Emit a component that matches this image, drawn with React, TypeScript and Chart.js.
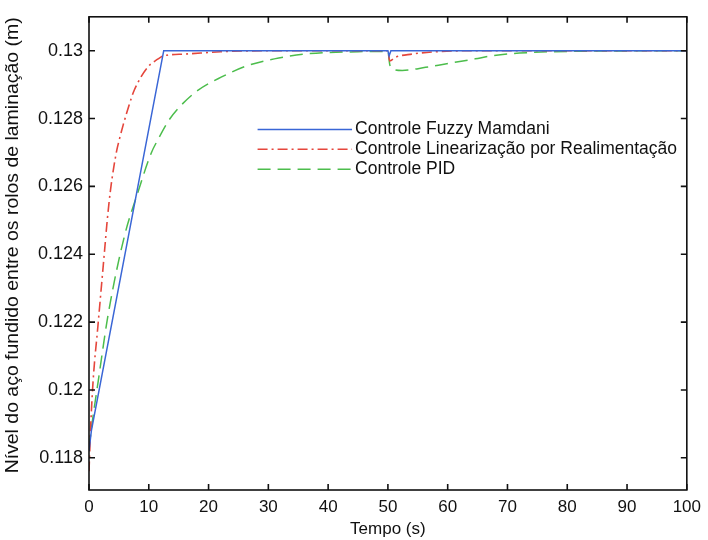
import React, { useEffect, useRef } from "react";
import { Chart, registerables } from "chart.js";

Chart.register(...registerables);

// ---- data ----
const fuzzyT = [0, 0.4, 12.5, 50, 50.2, 50.5, 100];
const fuzzyY = [0.1182, 0.1188, 0.13, 0.13, 0.12985, 0.13, 0.13];

const linT = [0, 0.3, 0.7, 1.5, 2.1, 2.6, 3.05, 3.6, 4.55, 5.1, 5.7, 6.8, 7.6, 9.8, 11.5, 12.5, 16, 22, 30, 50, 50.3, 51.3, 54, 58, 65, 100];
const linY = [0.1176, 0.119, 0.1203, 0.1219, 0.1231, 0.1241, 0.125, 0.1259, 0.12698, 0.1274, 0.1278, 0.12845, 0.12885, 0.12951, 0.12975, 0.12985, 0.1299, 0.12997, 0.13, 0.13, 0.1297, 0.12981, 0.1299, 0.12997, 0.13, 0.13];

const pidT = [0, 0.5, 1.55, 3.2, 5.95, 8.17, 10.4, 11.5, 13.4, 15.4, 18.2, 22.1, 26.5, 31, 36, 45, 50, 50.3, 50.7, 52.4, 56.3, 59.6, 64.6, 67.4, 72, 80, 100];
const pidY = [0.1183, 0.119, 0.12027, 0.12222, 0.12455, 0.12582, 0.12698, 0.12737, 0.12796, 0.12839, 0.12883, 0.12922, 0.12956, 0.12976, 0.1299, 0.12997, 0.12998, 0.1296, 0.12947, 0.12942, 0.12951, 0.12961, 0.12976, 0.12985, 0.12993, 0.12998, 0.13];

const seriesNames = [
  "Controle Fuzzy Mamdani",
  "Controle Linearização por Realimentação",
  "Controle PID",
];
const xTicks = [0, 10, 20, 30, 40, 50, 60, 70, 80, 90, 100];
const yTicks = [0.118, 0.12, 0.122, 0.124, 0.126, 0.128, 0.13];
const xTitle = "Tempo (s)";
const yTitle = "Nível do aço fundido entre os rolos de laminação (m)";

const COLORS = ["#3a66d6", "#e5463c", "#4cbd4c"];
const DASHES: number[][] = [[], [10, 4, 2, 4], [13, 7]];
const FONT = "'Liberation Sans', Arial, sans-serif";

const zip = (t: number[], y: number[]) => t.map((x, i) => ({ x, y: y[i] }));

const framePlugin = {
  id: "frameTicks",
  afterDatasetsDraw(chart: any) {
    const { ctx, chartArea: a, scales } = chart;
    const L = 6;
    ctx.save();
    ctx.strokeStyle = "#111";
    ctx.lineWidth = 1.6;
    ctx.strokeRect(a.left, a.top, a.right - a.left, a.bottom - a.top);
    ctx.beginPath();
    xTicks.forEach((v) => {
      const px = scales.x.getPixelForValue(v);
      ctx.moveTo(px, a.bottom);
      ctx.lineTo(px, a.bottom - L);
      ctx.moveTo(px, a.top);
      ctx.lineTo(px, a.top + L);
    });
    yTicks.forEach((v) => {
      const py = scales.y.getPixelForValue(v);
      ctx.moveTo(a.left, py);
      ctx.lineTo(a.left + L, py);
      ctx.moveTo(a.right, py);
      ctx.lineTo(a.right - L, py);
    });
    ctx.stroke();
    ctx.restore();
  },
};

const yTitlePlugin = {
  id: "yTitle",
  afterDraw(chart: any) {
    const { ctx, chartArea: a } = chart;
    ctx.save();
    ctx.font = `18px ${FONT}`;
    const w = ctx.measureText(yTitle).width;
    const target = 456;
    ctx.translate(13, a.top + (a.bottom - a.top) * 0.483);
    ctx.rotate(-Math.PI / 2);
    ctx.scale(target / w, 1);
    ctx.fillStyle = "#111";
    ctx.textAlign = "center";
    ctx.textBaseline = "middle";
    ctx.fillText(yTitle, 0, 0);
    ctx.restore();
  },
};

const legendPlugin = {
  id: "customLegend",
  afterDraw(chart: any) {
    const { ctx, chartArea: a } = chart;
    const w = a.right - a.left;
    const h = a.bottom - a.top;
    const x0 = a.left + w * 0.282;
    const x1 = a.left + w * 0.44;
    const tx = x1 + 3;
    const ys = [0.238, 0.28, 0.322].map((f) => a.top + h * f);
    ctx.save();
    ctx.font = `17.5px ${FONT}`;
    ctx.textBaseline = "middle";
    ctx.textAlign = "left";
    seriesNames.forEach((name, i) => {
      ctx.beginPath();
      ctx.setLineDash(DASHES[i]);
      ctx.strokeStyle = COLORS[i];
      ctx.lineWidth = 1.5;
      ctx.moveTo(x0, ys[i]);
      ctx.lineTo(x1, ys[i]);
      ctx.stroke();
      ctx.setLineDash([]);
      ctx.fillStyle = "#111";
      ctx.fillText(name, tx, ys[i]);
    });
    ctx.restore();
  },
};

export default function App() {
  const ref = useRef<HTMLCanvasElement | null>(null);
  useEffect(() => {
    if (!ref.current) return;
    const chart = new Chart(ref.current, {
      type: "line",
      data: {
        datasets: [
          { label: seriesNames[0], data: zip(fuzzyT, fuzzyY), borderColor: COLORS[0], borderWidth: 1.5, pointRadius: 0, tension: 0 },
          { label: seriesNames[1], data: zip(linT, linY), borderColor: COLORS[1], borderWidth: 1.6, borderDash: DASHES[1], pointRadius: 0, cubicInterpolationMode: "monotone" },
          { label: seriesNames[2], data: zip(pidT, pidY), borderColor: COLORS[2], borderWidth: 1.5, borderDash: DASHES[2], pointRadius: 0, cubicInterpolationMode: "monotone" },
        ],
      },
      options: {
        animation: false,
        responsive: false,
        maintainAspectRatio: false,
        layout: { padding: { top: 12, right: 18, left: 0, bottom: 0 } },
        plugins: { legend: { display: false }, tooltip: { enabled: false } },
        scales: {
          x: {
            type: "linear",
            min: 0,
            max: 100,
            grid: { display: false, drawTicks: false },
            border: { display: false },
            ticks: { color: "#111", font: { family: FONT, size: 17 }, padding: 7, maxRotation: 0 },
            afterBuildTicks: (s: any) => { s.ticks = xTicks.map((v) => ({ value: v })); },
            afterFit: (s: any) => { s.height = 50; },
            title: { display: true, text: xTitle, color: "#111", font: { family: FONT, size: 17 }, padding: 0 },
          },
          y: {
            type: "linear",
            min: 0.11705,
            max: 0.131,
            grid: { display: false, drawTicks: false },
            border: { display: false },
            ticks: {
              color: "#111",
              font: { family: FONT, size: 18 },
              padding: 6,
              callback: (v: any) => String(Number(Number(v).toFixed(3))),
            },
            afterBuildTicks: (s: any) => { s.ticks = yTicks.map((v) => ({ value: v })); },
            afterFit: (s: any) => { s.width = 89; },
          },
        },
      },
      plugins: [framePlugin, legendPlugin, yTitlePlugin],
    });
    return () => chart.destroy();
  }, []);
  return (
    <div style={{ position: "fixed", left: 0, top: 0, width: 708, height: 540, background: "#fff" }}>
      <canvas ref={ref} width={708} height={540} style={{ width: 708, height: 540 }} />
    </div>
  );
}
